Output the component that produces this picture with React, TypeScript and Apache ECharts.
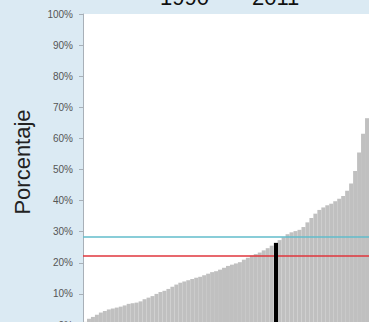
import React, { useEffect, useRef } from "react";
import * as echarts from "echarts";

const values: number[] = [
  1.0, 2.0, 2.6, 3.3, 4.0, 4.5, 5.0, 5.3, 5.6, 5.9,
  6.3, 6.8, 7.0, 7.2, 7.6, 8.3, 8.8, 9.3, 10.0, 10.6,
  11.0, 11.6, 12.3, 13.0, 13.6, 14.0, 14.4, 14.8, 15.2, 15.5,
  16.0, 16.5, 17.0, 17.3, 17.8, 18.4, 19.0, 19.4, 19.8, 20.2,
  21.0, 21.6, 22.3, 22.8, 23.3, 24.0, 24.7, 25.5, 26.4, 27.3,
  28.2, 29.2, 29.8, 30.2, 30.6, 31.5, 33.0, 34.4, 35.8, 37.0,
  37.8, 38.5, 39.0, 39.8, 40.6, 41.5, 43.2, 45.5, 49.5, 55.5,
  61.5, 66.5,
];
const categories: string[] = values.map((_, i) => String(i + 1));
const yTicks = [0, 10, 20, 30, 40, 50, 60, 70, 80, 90, 100];
const titleLeft = "1990";
const titleRight = "2011";
const yName = "Porcentaje";
const cyanLevel = 28.3;
const redLevel = 22.2;
const markerCategory = "49";
const markerValue = 26.4;

const FONT = "'Liberation Sans', Arial, sans-serif";

export default function App() {
  const ref = useRef<HTMLDivElement>(null);
  useEffect(() => {
    document.body.style.margin = "0";
    const chart = echarts.init(ref.current!, null, { renderer: "svg" });
    chart.setOption({
      animation: false,
      backgroundColor: "#dbeaf3",
      textStyle: { fontFamily: FONT },
      grid: {
        left: 83,
        top: 14,
        right: 0,
        bottom: -3,
        show: true,
        backgroundColor: "#ffffff",
        borderWidth: 0,
        containLabel: false,
        outerBoundsMode: "none",
      },
      xAxis: {
        type: "category",
        data: categories,
        boundaryGap: true,
        axisLine: { show: false },
        axisTick: { show: false },
        axisLabel: { show: false },
        splitLine: { show: false },
      },
      yAxis: {
        type: "value",
        min: yTicks[0],
        max: yTicks[yTicks.length - 1],
        interval: 10,
        axisLine: { show: true, lineStyle: { color: "#a8b0b8", width: 1 } },
        axisTick: { show: true, length: 4, lineStyle: { color: "#a8b0b8" } },
        axisLabel: {
          formatter: "{value}%",
          fontSize: 10,
          color: "#555555",
          margin: 10,
          fontFamily: FONT,
        },
        splitLine: { show: false },
      },
      graphic: [
        {
          type: "text",
          x: 160,
          y: 8,
          style: {
            text: titleLeft,
            font: `22px ${FONT}`,
            fill: "#111111",
            textAlign: "left",
            textVerticalAlign: "bottom",
          },
        },
        {
          type: "text",
          x: 252,
          y: 8,
          style: {
            text: titleRight,
            font: `22px ${FONT}`,
            fill: "#111111",
            textAlign: "left",
            textVerticalAlign: "bottom",
          },
        },
        {
          type: "text",
          x: 22,
          y: 162,
          rotation: Math.PI / 2,
          style: {
            text: yName,
            font: `22px ${FONT}`,
            fill: "#222222",
            textAlign: "center",
            textVerticalAlign: "middle",
          },
        },
      ],
      series: [
        {
          type: "bar",
          data: values,
          barCategoryGap: "0%",
          itemStyle: { color: "#c0c0c0" },
          silent: true,
          markLine: {
            silent: true,
            symbol: ["none", "none"],
            label: { show: false },
            data: [
              { yAxis: cyanLevel, lineStyle: { color: "#62bccb", width: 1.5, type: "solid" } },
              { yAxis: redLevel, lineStyle: { color: "#e0363c", width: 1.5, type: "solid" } },
              [
                { coord: [markerCategory, 0], lineStyle: { color: "#000000", width: 4, type: "solid" } },
                { coord: [markerCategory, markerValue] },
              ],
            ],
          },
        },
      ],
    });
    return () => chart.dispose();
  }, []);
  return <div ref={ref} style={{ width: 369, height: 322 }} />;
}
